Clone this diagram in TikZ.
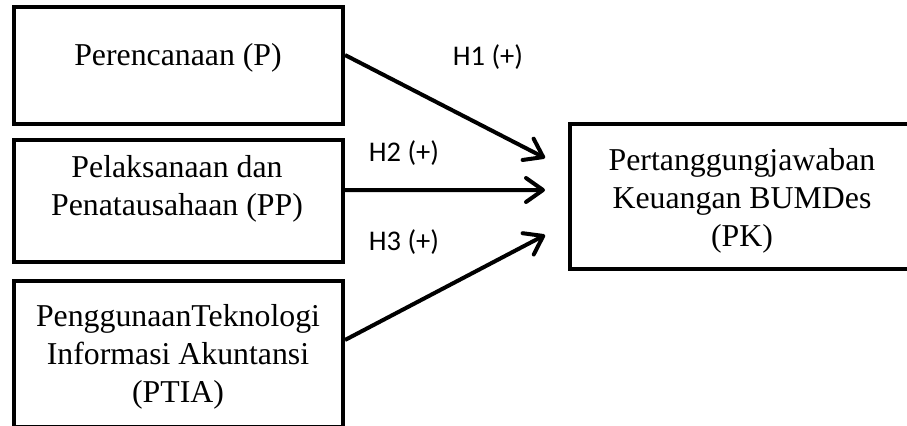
\documentclass[tikz,border=0pt]{standalone}
\usepackage{fontspec}
\setmainfont{Liberation Serif}
\newfontfamily\labfont{Carlito}
\usetikzlibrary{arrows.meta}
\begin{document}
\begin{tikzpicture}[x=1bp,y=-1bp,
  boxnode/.style={draw=black, line width=4bp, inner sep=0pt},
  txt/.style={align=center, inner sep=0pt, font=\fontsize{31.8bp}{38bp}\selectfont},
  hlab/.style={inner sep=0pt, font=\labfont\fontsize{28.5bp}{32bp}\selectfont},
  arr/.style={line width=4bp, -{Straight Barb[length=17bp,width=24bp,line join=round,line cap=round]}}]
\fill[white] (0,0) rectangle (907,425);
\useasboundingbox (0,0) rectangle (907,425);
% boxes
\node[boxnode, minimum width=329bp, minimum height=117bp] (p) at (178.5,65.5) {};
\node[boxnode, minimum width=329bp, minimum height=122bp] (pp) at (178.5,201) {};
\node[boxnode, minimum width=329bp, minimum height=146bp] (ptia) at (178.5,354) {};
\node[boxnode, minimum width=344bp, minimum height=145bp] (pk) at (742,196.5) {};
% texts
\node[txt] (tp) at (178,58) {Perencanaan (P)};
\node[txt] (tpp) at (177,189) {Pelaksanaan dan\\Penatausahaan (PP)};
\node[txt] (tptia) at (178,357) {PenggunaanTeknologi\\Informasi Akuntansi\\(PTIA)};
\node[txt] (tpk) at (742,201) {Pertanggungjawaban\\Keuangan BUMDes\\(PK)};
% arrow ends
\coordinate (e1) at (545,158);
\coordinate (e2) at (545,190);
\coordinate (e3) at (545,235);
\draw[arr] ([yshift=10.5bp]p.east) -- (e1);
\draw[arr] ([yshift=11bp]pp.east) -- (e2);
\draw[arr] ([yshift=14bp]ptia.east) -- (e3);
% labels
\node[hlab] (h1) at (488,57) {H1 (+)};
\node[hlab] (h2) at (404,153) {H2 (+)};
\node[hlab] (h3) at (404,242) {H3 (+)};
\end{tikzpicture}
\end{document}
